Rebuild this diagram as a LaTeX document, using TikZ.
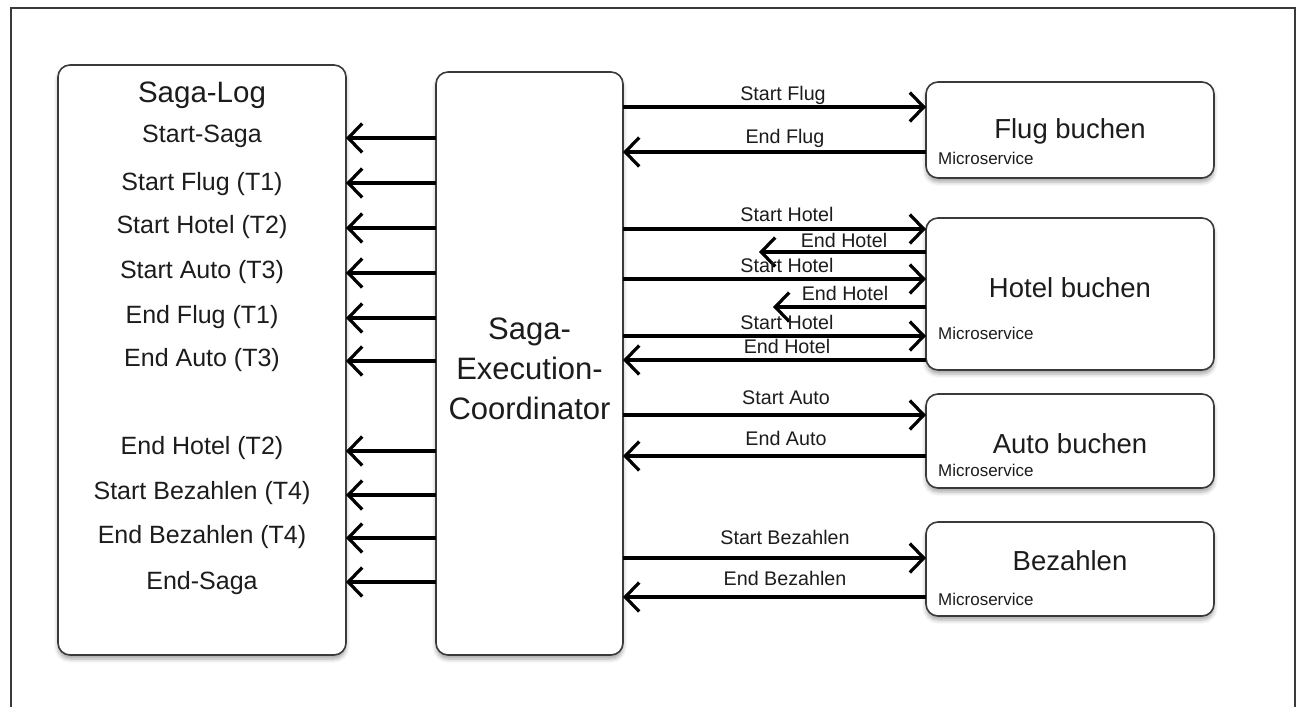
\documentclass[tikz,border=0pt]{standalone}
\usepackage{fontspec}
\setmainfont{Liberation Sans}
\usetikzlibrary{arrows.meta,shadows.blur}
\definecolor{boxgray}{HTML}{3A3A3A}
\definecolor{ink}{HTML}{1C1C1C}
\begin{document}
\begin{tikzpicture}[x=1pt,y=-1pt,
  box/.style={draw=boxgray, line width=1.6pt, rounded corners=12pt, fill=white,
    inner sep=0pt, outer sep=0pt,
    blur shadow={shadow xshift=0pt, shadow yshift=-4pt, shadow blur radius=4pt, shadow opacity=35}},
  arr/.style={draw=black, line width=3.2pt, -{Straight Barb[length=14pt,width=29pt]}},
  logtitle/.style={text=ink, font=\fontsize{29.5}{34}\selectfont, inner sep=0pt},
  logitem/.style={text=ink, font=\fontsize{25}{30}\selectfont, inner sep=0pt, text height=18pt, text depth=5pt},
  sectext/.style={text=ink, font=\fontsize{31}{40}\selectfont, align=center, inner sep=0pt},
  svctitle/.style={text=ink, font=\fontsize{27.5}{32}\selectfont, inner sep=0pt},
  svcnote/.style={text=ink, font=\fontsize{17}{20}\selectfont, inner sep=0pt, anchor=west},
  lbl/.style={text=ink, font=\fontsize{19.7}{22}\selectfont, inner sep=0pt, text height=14pt, text depth=4pt},
  frame/.style={draw=boxgray, line width=1.4pt}]
\useasboundingbox (0,0) rectangle (1296,707);

% outer frame, open at the bottom
\draw[frame] (11,707) -- (11,8) -- (1295,8) -- (1295,707);

% main boxes
\node[box, minimum width=288pt, minimum height=590pt] (log) at (202,360) {};
\node[box, minimum width=187pt, minimum height=583pt] (sec) at (529.5,363.5) {};
\node[box, minimum width=288pt, minimum height=96pt]  (flug) at (1070,130) {};
\node[box, minimum width=288pt, minimum height=152pt] (hotel) at (1070,294) {};
\node[box, minimum width=288pt, minimum height=94pt]  (auto) at (1070,441) {};
\node[box, minimum width=288pt, minimum height=94pt]  (bez) at (1070,569) {};

% saga log entries
\node[logtitle] (logt) at (202,95) {Saga-Log};
\foreach \txt/\ty/\ay [count=\i] in {
  {Start-Saga}/136/138,
  {Start Flug (T1)}/184/183,
  {Start Hotel (T2)}/227/228,
  {Start Auto (T3)}/272/273,
  {End Flug (T1)}/317/318,
  {End Auto (T3)}/360/361,
  {End Hotel (T2)}/448/451,
  {Start Bezahlen (T4)}/493/495,
  {End Bezahlen (T4)}/537/538,
  {End-Saga}/583/582} {
  \node[logitem] (item\i) at (202,\ty) {\txt};
  \coordinate (lvl\i) at (391,\ay);
  \draw[arr] (sec.west |- lvl\i) -- (log.east |- lvl\i);
}

% coordinator
\node[sectext] (sect) at (529.5,369) {Saga-\\Execution-\\Coordinator};

% services
\node[svctitle] (flugt) at (1070,131) {Flug buchen};
\node[svcnote] (flugn) at (938,158) {Microservice};
\node[svctitle] (hotelt) at (1070,288) {Hotel buchen};
\node[svcnote] (hoteln) at (938,333) {Microservice};
\node[svctitle] (autot) at (1070,444) {Auto buchen};
\node[svcnote] (auton) at (938,470) {Microservice};
\node[svctitle] (bezt) at (1070,561) {Bezahlen};
\node[svcnote] (bezn) at (938,599) {Microservice};

% message levels
\coordinate (fs) at (775,107);
\coordinate (fe) at (775,152);
\coordinate (hs1) at (775,229);
\coordinate (he1) at (759,252);
\coordinate (hs2) at (775,279);
\coordinate (he2) at (773,307);
\coordinate (hs3) at (775,336);
\coordinate (he3) at (775,360);
\coordinate (as) at (775,415);
\coordinate (ae) at (775,456);
\coordinate (bs) at (775,558);
\coordinate (be) at (775,597);

% flight
\draw[arr] (sec.east |- fs) -- (flug.west |- fs);
\draw[arr] (flug.west |- fe) -- (sec.east |- fe);
\node[lbl] (lfs) at (783,95) {Start Flug};
\node[lbl] (lfe) at (785,138) {End Flug};

% hotel, with retries
\draw[arr] (sec.east |- hs1) -- (hotel.west |- hs1);
\draw[arr] (hotel.west |- he1) -- (he1);
\draw[arr] (sec.east |- hs2) -- (hotel.west |- hs2);
\draw[arr] (hotel.west |- he2) -- (he2);
\draw[arr] (sec.east |- hs3) -- (hotel.west |- hs3);
\draw[arr] (hotel.west |- he3) -- (sec.east |- he3);
\node[lbl] (lhs1) at (787,216) {Start Hotel};
\node[lbl] (lhe1) at (844,242) {End Hotel};
\node[lbl] (lhs2) at (787,267) {Start Hotel};
\node[lbl] (lhe2) at (845,295) {End Hotel};
\node[lbl] (lhs3) at (787,324) {Start Hotel};
\node[lbl] (lhe3) at (787,348) {End Hotel};

% car
\draw[arr] (sec.east |- as) -- (auto.west |- as);
\draw[arr] (auto.west |- ae) -- (sec.east |- ae);
\node[lbl] (las) at (786,399) {Start Auto};
\node[lbl] (lae) at (786,440) {End Auto};

% payment
\draw[arr] (sec.east |- bs) -- (bez.west |- bs);
\draw[arr] (bez.west |- be) -- (sec.east |- be);
\node[lbl] (lbs) at (785,539) {Start Bezahlen};
\node[lbl] (lbe) at (785,580) {End Bezahlen};
\end{tikzpicture}
\end{document}
